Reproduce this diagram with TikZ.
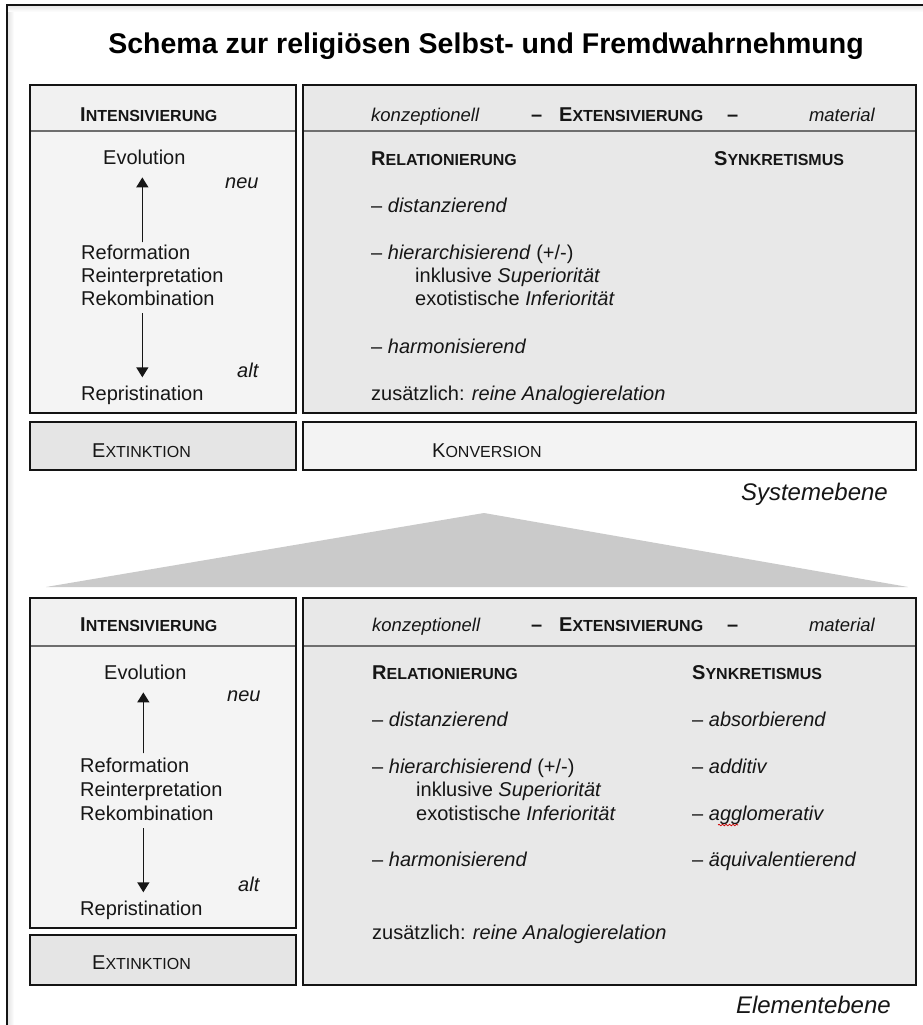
\documentclass[tikz,border=0pt]{standalone}
\usepackage{fontspec}
\setmainfont{Liberation Sans}
\usetikzlibrary{arrows.meta,calc,decorations.pathmorphing}

\definecolor{ink}{RGB}{22,22,22}
\definecolor{frame}{RGB}{20,20,20}
\definecolor{rulegray}{RGB}{110,110,110}
\definecolor{lighthead}{RGB}{241,241,241}
\definecolor{lightbody}{RGB}{244,244,244}
\definecolor{darkpanel}{RGB}{232,232,232}
\definecolor{extfill}{RGB}{229,229,229}
\definecolor{konvfill}{RGB}{243,243,243}
\definecolor{wedge}{RGB}{202,202,202}

% fake small caps: first letter full size, rest reduced
\newcommand{\ksc}[2]{#1{\fontsize{16}{16}\selectfont #2}}

\tikzset{
  txt/.style={anchor=base west, inner sep=0pt, text=ink, font=\fontsize{20}{24}\selectfont},
  hd/.style={txt, font=\fontsize{20}{24}\selectfont\bfseries},
  sub/.style={txt, font=\fontsize{18.5}{22}\selectfont\itshape},
  level/.style={anchor=base east, inner sep=0pt, text=ink, font=\fontsize{24}{28}\selectfont\itshape},
  panel/.style={draw=frame, line width=1.8pt},
  rulel/.style={draw=rulegray, line width=1.1pt},
  arr/.style={-{Triangle[width=12pt,length=10pt]}, line width=1.4pt, draw=ink, fill=ink},
}

\begin{document}
\begin{tikzpicture}[x=1pt,y=-1pt]
\useasboundingbox (0,0) rectangle (923,1025);
\fill[white] (0,0) rectangle (923,1025);

% outer page frame with its soft inner shade
\shade[left color=black!12, right color=white] (7,5) rectangle (14,1025);
\shade[top color=black!10, bottom color=white] (7,5) rectangle (923,12);
\draw[frame, line width=1.4pt] (7,1025) -- (7,5) -- (923,5);

% title
\node[anchor=base, inner sep=0pt, font=\fontsize{28.5}{32}\selectfont\bfseries] (title) at (486,54)
  {Schema zur religiösen Selbst- und Fremdwahrnehmung};

% ---------- system level ----------
\fill[lighthead] (30,85) rectangle (296,131);
\fill[lightbody] (30,131) rectangle (296,413);
\fill[darkpanel] (303,85) rectangle (916,413);
\draw[rulel] (30,131) -- (296,131);
\draw[rulel] (303,131) -- (916,131);
\draw[panel] (30,85) rectangle (296,413);
\draw[panel] (303,85) rectangle (916,413);

\node[hd] (sInt) at (80,121) {\ksc{I}{NTENSIVIERUNG}};
\node[sub] (sKon) at (371,121) {konzeptionell};
\node[hd] (sDa) at (531,121) {–};
\node[hd] (sExt) at (559,121) {\ksc{E}{XTENSIVIERUNG}};
\node[hd] (sDb) at (727,121) {–};
\node[sub, anchor=base east] (sMat) at (875,121) {material};

\node[txt] (sEvo) at (103,164) {Evolution};
\node[txt, font=\fontsize{20}{24}\selectfont\itshape] (sNeu) at (225,188) {neu};
\node[txt] (sRef) at (81,259) {Reformation};
\node[txt] (sRei) at (81,282) {Reinterpretation};
\node[txt] (sRek) at (81,305) {Rekombination};
\node[txt, font=\fontsize{20}{24}\selectfont\itshape] (sAlt) at (237,377) {alt};
\node[txt] (sRep) at (81,400) {Repristination};
\draw[arr] ($(sEvo.south)+(-2,78)$) -- ($(sEvo.south)+(-2,13)$);
\draw[arr] ($(sRek.south -| sEvo.south)+(-2,8)$) -- ($(sRep.north -| sEvo.south)+(-2,-8)$);

\node[hd] (sRel) at (371,165) {\ksc{R}{ELATIONIERUNG}};
\node[hd] (sSyn) at (714,165) {\ksc{S}{YNKRETISMUS}};
\node[txt] (sDis) at (371,212) {– \textit{distanzierend}};
\node[txt] (sHie) at (371,259) {– \textit{hierarchisierend} (+/-)};
\node[txt] (sInk) at (415,282) {inklusive \textit{Superiorität}};
\node[txt] (sExo) at (415,305) {exotistische \textit{Inferiorität}};
\node[txt] (sHar) at (371,353) {– \textit{harmonisierend}};
\node[txt] (sZus) at (371,400) {zusätzlich: \textit{reine Analogierelation}};

\fill[extfill] (30,422) rectangle (296,470);
\fill[konvfill] (303,422) rectangle (916,470);
\draw[panel] (30,422) rectangle (296,470);
\draw[panel] (303,422) rectangle (916,470);
\node[txt] (sExk) at (92,457) {\ksc{E}{XTINKTION}};
\node[txt] (sKonv) at (432,457) {\ksc{K}{ONVERSION}};

\node[level] (sys) at (888,500) {Systemebene};

% widening wedge between the two levels
\fill[wedge] (46,587) -- (484,513) -- (908,587) -- cycle;

% ---------- element level ----------
\fill[lighthead] (30,598) rectangle (296,646);
\fill[lightbody] (30,646) rectangle (296,928);
\fill[darkpanel] (303,598) rectangle (916,985);
\draw[rulel] (30,646) -- (296,646);
\draw[rulel] (303,646) -- (916,646);
\draw[panel] (30,598) rectangle (296,928);
\draw[panel] (303,598) rectangle (916,985);

\node[hd] (eInt) at (80,631) {\ksc{I}{NTENSIVIERUNG}};
\node[sub] (eKon) at (372,631) {konzeptionell};
\node[hd] (eDa) at (531,631) {–};
\node[hd] (eExt) at (559,631) {\ksc{E}{XTENSIVIERUNG}};
\node[hd] (eDb) at (727,631) {–};
\node[sub, anchor=base east] (eMat) at (875,631) {material};

\node[txt] (eEvo) at (104,679) {Evolution};
\node[txt, font=\fontsize{20}{24}\selectfont\itshape] (eNeu) at (227,701) {neu};
\node[txt] (eRef) at (80,772) {Reformation};
\node[txt] (eRei) at (80,796) {Reinterpretation};
\node[txt] (eRek) at (80,820) {Rekombination};
\node[txt, font=\fontsize{20}{24}\selectfont\itshape] (eAlt) at (238,891) {alt};
\node[txt] (eRep) at (80,915) {Repristination};
\draw[arr] ($(eEvo.south)+(-2,74)$) -- ($(eEvo.south)+(-2,13)$);
\draw[arr] ($(eRek.south -| eEvo.south)+(-2,8)$) -- ($(eRep.north -| eEvo.south)+(-2,-8)$);

\node[hd] (eRel) at (372,679) {\ksc{R}{ELATIONIERUNG}};
\node[hd] (eSyn) at (692,679) {\ksc{S}{YNKRETISMUS}};
\node[txt] (eDis) at (372,726) {– \textit{distanzierend}};
\node[txt] (eHie) at (372,773) {– \textit{hierarchisierend} (+/-)};
\node[txt] (eInk) at (416,796) {inklusive \textit{Superiorität}};
\node[txt] (eExo) at (416,820) {exotistische \textit{Inferiorität}};
\node[txt] (eHar) at (372,866) {– \textit{harmonisierend}};
\node[txt] (eZus) at (372,939) {zusätzlich: \textit{reine Analogierelation}};

\node[txt] (eAbs) at (692,726) {– \textit{absorbierend}};
\node[txt] (eAdd) at (692,773) {– \textit{additiv}};
\node[txt] (eAgg) at (692,820) {– \textit{agglomerativ}};
\node[txt] (eAeq) at (692,866) {– \textit{äquivalentierend}};
% spell-check squiggle under "gg"
\draw[red!80!black, line width=0.7pt, decorate, decoration={snake, amplitude=0.8pt, segment length=3.5pt}]
  ($(eAgg.base west)+(26,5)$) -- ++(20,0);

\fill[extfill] (30,935) rectangle (296,985);
\draw[panel] (30,935) rectangle (296,985);
\node[txt] (eExk) at (92,969) {\ksc{E}{XTINKTION}};

\node[level] (ele) at (891,1013) {Elementebene};
\end{tikzpicture}
\end{document}
